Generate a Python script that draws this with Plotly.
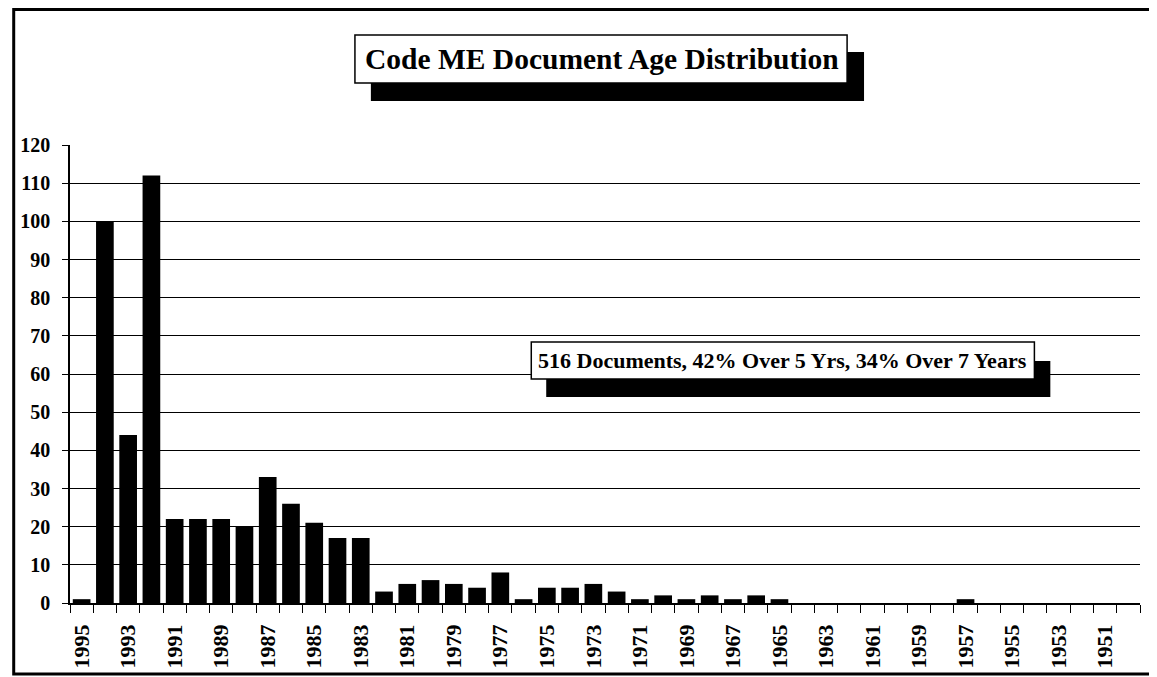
import plotly.graph_objects as go

years = list(range(1995, 1949, -1))
counts = [1, 100, 44, 112, 22, 22, 22, 20, 33, 26, 21, 17, 17,
          3, 5, 6, 5, 4, 8, 1, 4, 4, 5, 3,
          1, 2, 1, 2, 1, 2, 1,
          0, 0, 0, 0, 0, 0, 0, 1,
          0, 0, 0, 0, 0, 0, 0]
label_years = list(range(1995, 1950, -2))
title_text = "Code ME Document Age Distribution"
note_text = "516 Documents, 42% Over 5 Yrs, 34% Over 7 Years"

FONT = "Liberation Serif, Times New Roman, serif"

fig = go.Figure()
fig.add_trace(go.Bar(x=years, y=counts, width=0.76,
                     marker=dict(color="black", line=dict(width=0)),
                     showlegend=False, hoverinfo="x+y"))

# page body has an 8px default margin, so the figure is 8px smaller
fig.update_layout(
    width=1149, height=669,
    margin=dict(l=58, r=17, t=137, b=74),
    paper_bgcolor="white", plot_bgcolor="white",
    font=dict(family=FONT, color="black"),
    xaxis=dict(
        range=[1995.5, 1949.5], tickmode="array",
        tickvals=label_years, ticktext=[str(y) for y in label_years],
        tickangle=-90, ticks="", showgrid=False, zeroline=False,
        showline=True, linecolor="black", linewidth=1.5,
        tickfont=dict(family=FONT, size=22, color="black", weight="bold"),
        ticklabelstandoff=11,
        automargin=False,
        minor=dict(tick0=0.5, dtick=1, ticks="outside", ticklen=8,
                   tickcolor="black", tickwidth=1, showgrid=False),
    ),
    xaxis2=dict(
        range=[1995.5, 1949.5], overlaying="x", side="bottom",
        showticklabels=False, ticks="", showgrid=False, zeroline=False,
        showline=False, anchor="y",
        minor=dict(tick0=0.5, dtick=1, ticks="inside", ticklen=4,
                   tickcolor="black", tickwidth=1, showgrid=False),
    ),
    yaxis=dict(
        range=[0, 120], dtick=10, tick0=0,
        showgrid=True, gridcolor="black", gridwidth=1,
        zeroline=False, showline=True, linecolor="black", linewidth=1.5,
        ticks="outside", ticklen=6, tickcolor="black",
        tickfont=dict(family=FONT, size=20, color="black", weight="bold"),
        ticklabelstandoff=8,
    ),
    bargap=0.24,
)

def px_x(p):
    return (p - 66) / 1074.0

def px_y(p):
    return (603 - p) / 458.0

shapes = []
# outer frame
shapes.append(dict(type="rect", xref="paper", yref="paper",
                   x0=px_x(9.5), x1=px_x(1153), y0=px_y(674), y1=px_y(9.5),
                   line=dict(color="black", width=3), fillcolor="rgba(0,0,0,0)"))
# title shadow + box
shapes.append(dict(type="rect", xref="paper", yref="paper",
                   x0=px_x(368), x1=px_x(863), y0=px_y(101), y1=px_y(52),
                   line=dict(width=0), fillcolor="black"))
shapes.append(dict(type="rect", xref="paper", yref="paper",
                   x0=px_x(352), x1=px_x(846), y0=px_y(83), y1=px_y(35),
                   line=dict(color="black", width=1.5), fillcolor="white"))
# note shadow + box
shapes.append(dict(type="rect", xref="paper", yref="paper",
                   x0=px_x(544), x1=px_x(1050), y0=px_y(397), y1=px_y(361),
                   line=dict(width=0), fillcolor="black"))
shapes.append(dict(type="rect", xref="paper", yref="paper",
                   x0=px_x(529), x1=px_x(1034), y0=px_y(379), y1=px_y(342),
                   line=dict(color="black", width=1.5), fillcolor="white"))
fig.update_layout(shapes=shapes)

fig.add_annotation(text=title_text, xref="paper", yref="paper",
                   x=px_x(600), y=px_y(59), xanchor="center", yanchor="middle",
                   showarrow=False,
                   font=dict(family=FONT, size=29.5, color="black", weight="bold"))
fig.add_annotation(text=note_text, xref="paper", yref="paper",
                   x=px_x(781.5), y=px_y(360.5), xanchor="center", yanchor="middle",
                   showarrow=False,
                   font=dict(family=FONT, size=22, color="black", weight="bold"))

fig.write_html("out.html")
